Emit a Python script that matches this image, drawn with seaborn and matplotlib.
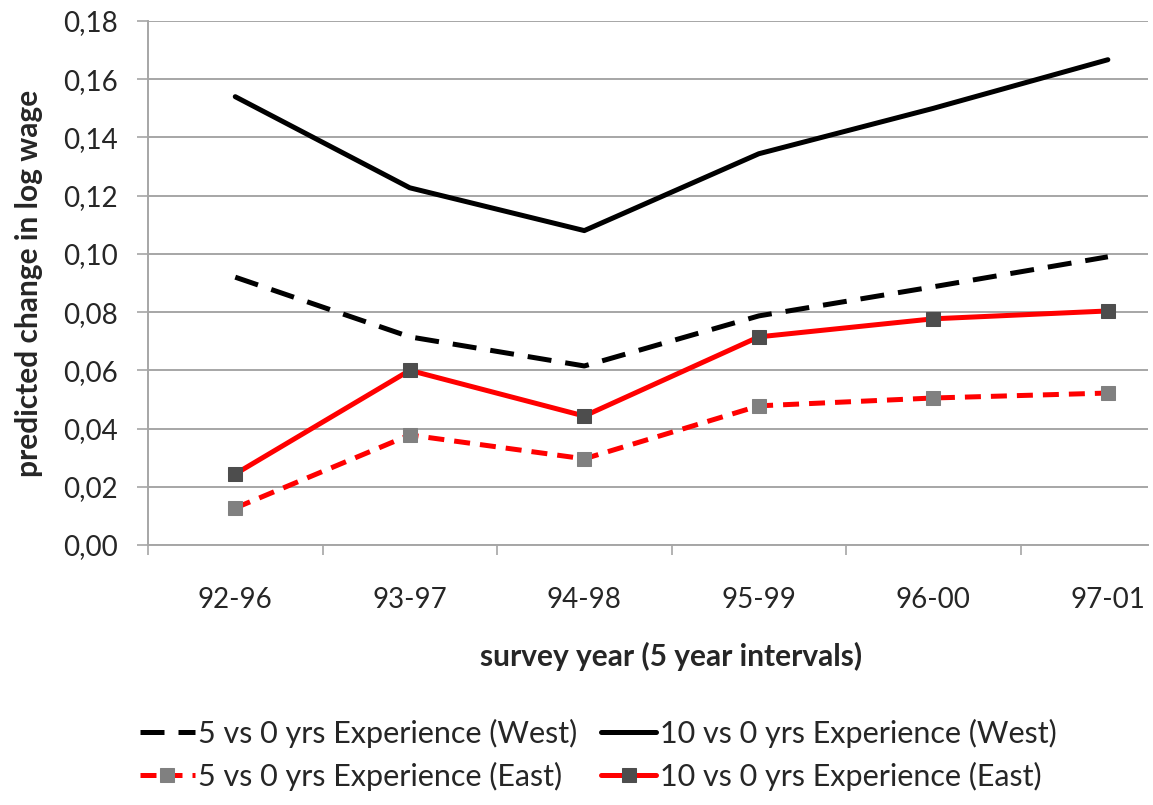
import numpy as np
import pandas as pd
import matplotlib
matplotlib.use("Agg")
import matplotlib.pyplot as plt
from matplotlib.ticker import FuncFormatter, FixedLocator
import seaborn as sns

# Data
periods = ["92-96", "93-97", "94-98", "95-99", "96-00", "97-01"]
west_5 = [0.092, 0.0715, 0.0615, 0.0787, 0.0887, 0.099]
west_10 = [0.154, 0.1227, 0.108, 0.1344, 0.150, 0.1667]
east_5 = [0.0127, 0.0378, 0.0296, 0.0478, 0.0505, 0.0522]
east_10 = [0.0244, 0.060, 0.0443, 0.0715, 0.0777, 0.0804]

df = pd.DataFrame({
    "pos": np.arange(len(periods)),
    "west_5": west_5,
    "west_10": west_10,
    "east_5": east_5,
    "east_10": east_10,
})

sns.set_style("white")
plt.rcParams["font.family"] = ["Lato", "DejaVu Sans"]

fig = plt.figure(figsize=(11.53, 8.05), dpi=100)
ax = fig.add_axes([148 / 1153, 1 - 545 / 805, 1000 / 1153, 524 / 805])

lw = 3.6
sns.lineplot(data=df, x="pos", y="west_5", ax=ax, color="black", linewidth=lw,
             linestyle=(0, (4.8, 2.8)), label="5 vs 0 yrs Experience (West)")
sns.lineplot(data=df, x="pos", y="west_10", ax=ax, color="black", linewidth=lw,
             label="10 vs 0 yrs Experience (West)")
sns.lineplot(data=df, x="pos", y="east_5", ax=ax, color="#ff0000", linewidth=lw,
             linestyle=(0, (3.2, 2.0)), marker="s", markersize=10,
             markerfacecolor="#808080", markeredgecolor="#808080",
             label="5 vs 0 yrs Experience (East)")
sns.lineplot(data=df, x="pos", y="east_10", ax=ax, color="#ff0000", linewidth=lw,
             marker="s", markersize=10,
             markerfacecolor="#4d4d4d", markeredgecolor="#4d4d4d",
             label="10 vs 0 yrs Experience (East)")

# axes styling (Excel look)
ax.set_ylim(0, 0.18)
ax.set_yticks(np.arange(0, 0.181, 0.02))
ax.yaxis.set_major_formatter(FuncFormatter(lambda v, p: f"{v:.2f}".replace(".", ",")))
ax.set_xlim(-0.5, 5.23)
ax.xaxis.set_major_locator(FixedLocator(np.arange(-0.5, 5.6, 1)))
ax.xaxis.set_major_formatter(FuncFormatter(lambda v, p: ""))
ax.xaxis.set_minor_locator(FixedLocator(df["pos"]))
ax.set_xticklabels(periods, minor=True)

ax.grid(axis="y", color="#a6a6a6", linewidth=1.4)
ax.grid(axis="x", visible=False)
for s in ["top", "right"]:
    ax.spines[s].set_visible(False)
for s in ["left", "bottom"]:
    ax.spines[s].set_color("#a6a6a6")
    ax.spines[s].set_linewidth(1.4)
ax.set_axisbelow(True)

ax.tick_params(axis="y", which="major", direction="out", length=8, width=1.2,
               color="#a6a6a6", labelsize=20, pad=14, left=True)
ax.tick_params(axis="x", which="major", direction="out", length=7, width=1.2,
               color="#a6a6a6", bottom=True)
ax.tick_params(axis="x", which="minor", length=0, labelsize=20, pad=30)

ax.set_xlabel("survey year (5 year intervals)", fontsize=21.5, fontweight="bold")
ax.xaxis.set_label_coords(0.523, -0.185)
ax.set_ylabel("predicted change in log wage", fontsize=21.5, fontweight="bold", labelpad=14)

handles, labels = ax.get_legend_handles_labels()
ax.get_legend().remove()
order = [0, 2, 1, 3]
fig.legend([handles[i] for i in order], [labels[i] for i in order],
           loc="center", bbox_to_anchor=(598 / 1153, 1 - 755 / 805), ncol=2,
           frameon=False, fontsize=22, handlelength=1.8, handletextpad=0.1,
           columnspacing=0.8, labelspacing=0.45)

fig.savefig("out.png", dpi=100)
